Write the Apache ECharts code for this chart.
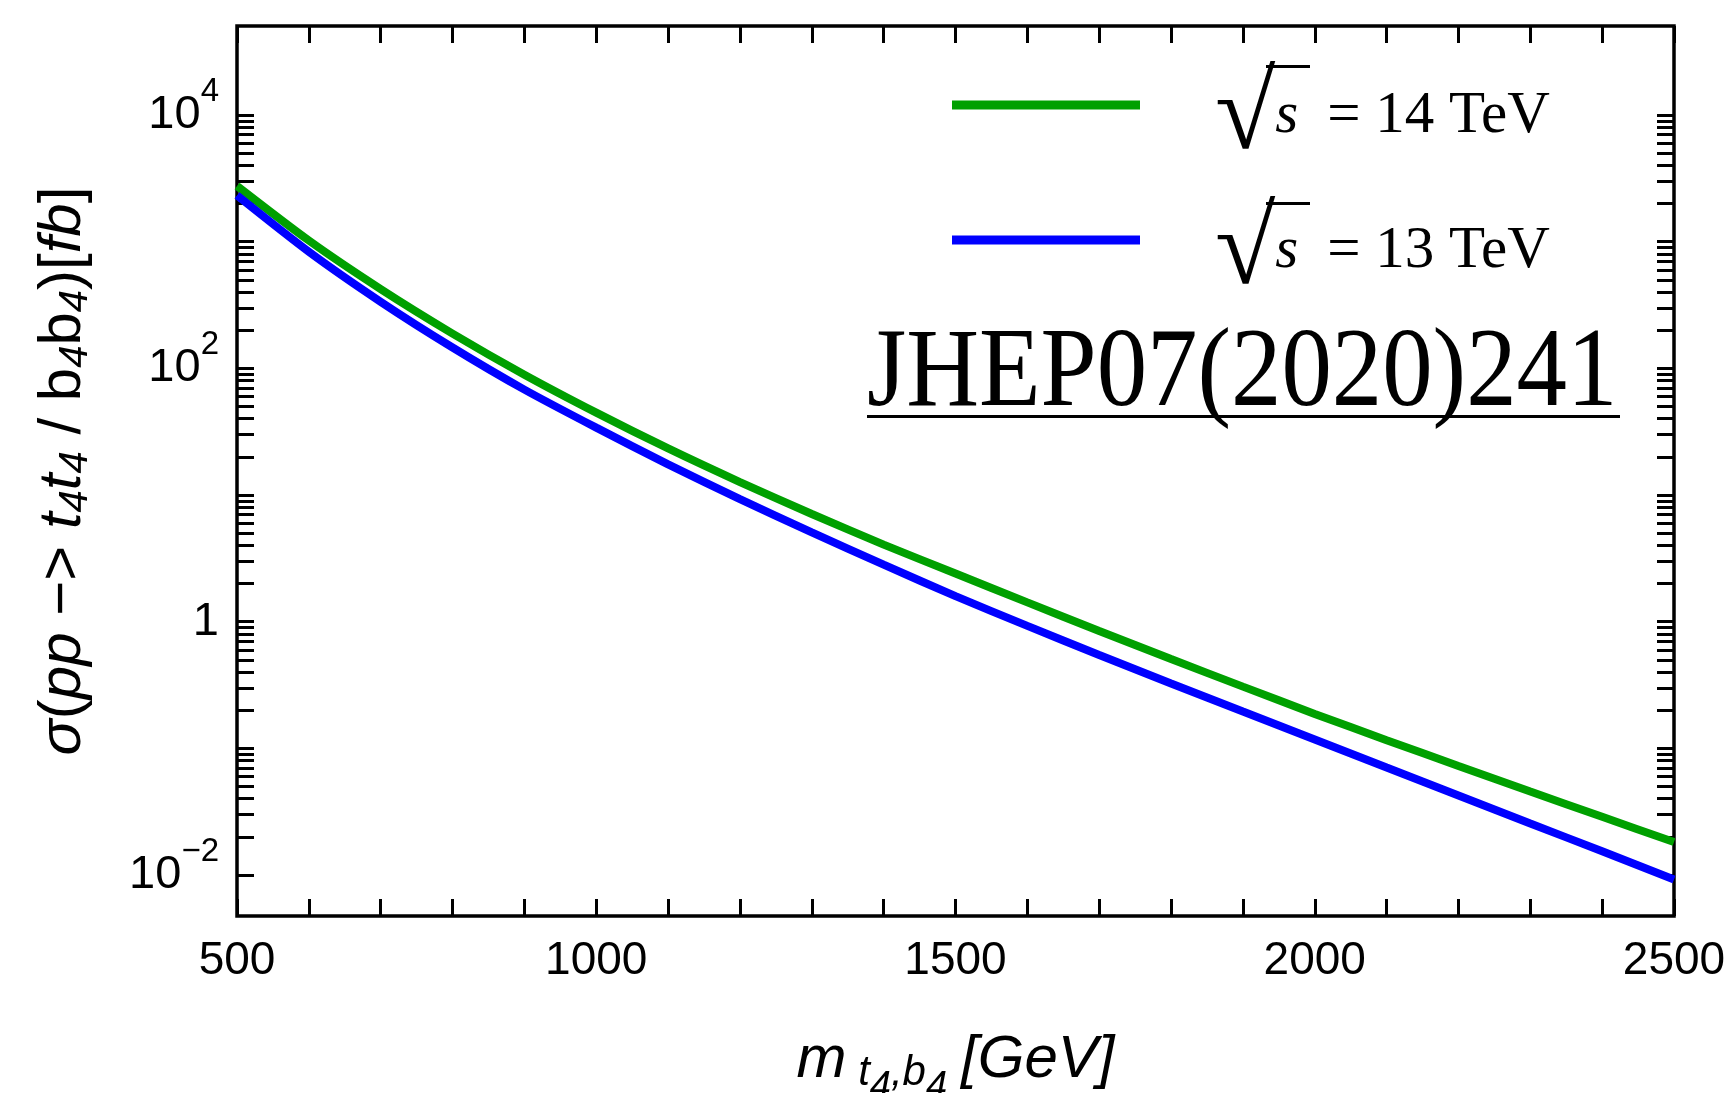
<!DOCTYPE html>
<html><head><meta charset="utf-8">
<script src="https://cdn.jsdelivr.net/npm/echarts@6/dist/echarts.min.js"></script>
<style>html,body{margin:0;padding:0;background:#fff}#c{width:1732px;height:1093px}</style>
</head><body><div id="c"></div><script>
// ---- data ----
const massGeV = [500,600,700,800,900,1000,1100,1200,1300,1400,1500,1600,1700,1800,1900,2000,2100,2200,2300,2400,2500];
const sigma14TeV = [2750,1020,422,188,89.1,44.7,23.3,12.65,7.08,4.06,2.40,1.42,0.845,0.507,0.307,0.187,0.116,0.0726,0.0456,0.0288,0.0182];
const sigma13TeV = [2317,832,335,146,67.9,34.0,17.46,9.27,5.07,2.82,1.59,0.927,0.546,0.325,0.195,0.1175,0.0706,0.0425,0.0255,0.0154,0.00923];
const seriesNames = ['14 TeV', '13 TeV'];
const xTickLabels = [500,1000,1500,2000,2500];
const yLabelValues = [0.01, 1, 100, 10000];
const yLabelBase = ['10', '1', '10', '10'];
const yLabelExp = ['\u22122', '', '2', '4'];
const yDecades = [-2,-1,0,1,2,3];
const yMantissas = [1,2,3,4,5,6,7,8,9];

const yTickValues = [];
yDecades.forEach(d => yMantissas.forEach(m => yTickValues.push(+(m * Math.pow(10, d)).toPrecision(3))));
yTickValues.push(10000);

const yMin = 0.004747, yMax = 50400;
const FONT = 'Liberation Sans';
const SERIF = 'Liberation Serif';

const chart = echarts.init(document.getElementById('c'), null, {renderer: 'canvas'});

const tickStyle = {color: '#000', width: 3};
function yLabelFmt(v) {
  let idx = -1;
  yLabelValues.forEach((lv, i) => { if (Math.abs(Math.log10(v) - Math.log10(lv)) < 1e-6) idx = i; });
  if (idx < 0) return '';
  return yLabelExp[idx] ? '{b|' + yLabelBase[idx] + '}{e|' + yLabelExp[idx] + '}' : '{b|' + yLabelBase[idx] + '}';
}

const option = {
  animation: false,
  backgroundColor: '#fff',
  textStyle: {fontFamily: FONT},
  grid: {left: 237, top: 26, width: 1437, height: 890, show: true, borderColor: '#000', borderWidth: 3.5,
         backgroundColor: 'transparent', containLabel: false, outerBoundsMode: 'none'},
  xAxis: [{
    type: 'value', min: 500, max: 2500, interval: 100, position: 'bottom',
    axisLine: {show: false}, splitLine: {show: false},
    axisTick: {inside: true, length: 17, lineStyle: tickStyle},
    axisLabel: {margin: 22, color: '#000', fontFamily: FONT, fontSize: 46,
      formatter: v => xTickLabels.indexOf(v) >= 0 ? String(v) : ''},
    name: '{m|m}{sub| t}{sub2|4}{sub|,b}{sub2|4}{n|[GeV]}',
    nameLocation: 'middle', nameGap: 98,
    nameTextStyle: {rich: {
      m: {fontFamily: FONT, fontStyle: 'italic', fontSize: 60, color: '#000', verticalAlign: 'middle'},
      sub: {fontFamily: FONT, fontStyle: 'italic', fontSize: 42, color: '#000', verticalAlign: 'middle', padding: [26,0,0,0]},
      sub2: {fontFamily: FONT, fontStyle: 'italic', fontSize: 38, color: '#000', verticalAlign: 'middle', padding: [54,0,0,0]},
      n: {fontFamily: FONT, fontStyle: 'italic', fontSize: 60, color: '#000', verticalAlign: 'middle', padding: [0,0,0,14]}
    }}
  }, {
    type: 'value', min: 500, max: 2500, interval: 100, position: 'top',
    axisLine: {show: false}, splitLine: {show: false},
    axisTick: {inside: true, length: 17, lineStyle: tickStyle},
    axisLabel: {show: false}
  }],
  yAxis: [{
    type: 'log', logBase: 10, min: yMin, max: yMax, position: 'left',
    axisLine: {show: false}, splitLine: {show: false}, minorTick: {show: false},
    axisTick: {inside: true, length: 17, lineStyle: tickStyle, customValues: yTickValues},
    axisLabel: {margin: 18, color: '#000', customValues: yLabelValues, formatter: yLabelFmt,
      rich: {
        b: {fontFamily: FONT, fontSize: 47, color: '#000', verticalAlign: 'middle'},
        e: {fontFamily: FONT, fontSize: 33, color: '#000', verticalAlign: 'middle', padding: [0,0,46,0]}
      }},
    name: '{g|\u03c3}{n|(}{i|pp}{n| \u2212> }{i|t}{s|4}{i|t}{s|4}{n| / }{n|b}{s|4}{n|b}{s|4}{n|)[}{i|fb}{n|]}',
    nameLocation: 'middle', nameGap: 141, nameRotate: 90,
    nameTextStyle: {rich: {
      g: {fontFamily: FONT, fontStyle: 'italic', fontSize: 60, color: '#000', verticalAlign: 'middle'},
      n: {fontFamily: FONT, fontSize: 60, color: '#000', verticalAlign: 'middle'},
      i: {fontFamily: FONT, fontStyle: 'italic', fontSize: 60, color: '#000', verticalAlign: 'middle'},
      s: {fontFamily: FONT, fontStyle: 'italic', fontSize: 40, color: '#000', verticalAlign: 'middle', padding: [26,0,0,0]}
    }}
  }, {
    type: 'log', logBase: 10, min: yMin, max: yMax, position: 'right',
    axisLine: {show: false}, splitLine: {show: false}, minorTick: {show: false},
    axisTick: {inside: true, length: 17, lineStyle: tickStyle, customValues: yTickValues},
    axisLabel: {show: false}
  }],
  legend: {
    orient: 'vertical', left: 952, top: 64, padding: 0, itemGap: 25,
    itemWidth: 188, itemHeight: 9, icon: 'rect', selectedMode: false,
    data: seriesNames,
    formatter: name => '{sp| }{r|\u221a}{s|s}{g| }{t|= ' + name + '}',
    textStyle: {rich: {
      sp: {width: 70, fontSize: 20},
      r: {fontFamily: SERIF, fontSize: 110, color: '#000', verticalAlign: 'middle', padding: [28,0,0,0]},
      s: {fontFamily: SERIF, fontStyle: 'italic', fontSize: 59, color: '#000', verticalAlign: 'middle', padding: [22,0,0,0]},
      g: {width: 29, fontSize: 20},
      t: {fontFamily: SERIF, fontSize: 59, color: '#000', verticalAlign: 'middle', padding: [22,0,0,0]}
    }}
  },
  series: [{
    name: seriesNames[0], type: 'line', showSymbol: false, symbol: 'none', smooth: 0.25, clip: true,
    data: massGeV.map((m, i) => [m, sigma14TeV[i]]),
    itemStyle: {color: '#00a000'}, lineStyle: {color: '#00a000', width: 8}
  }, {
    name: seriesNames[1], type: 'line', showSymbol: false, symbol: 'none', smooth: 0.25, clip: true,
    data: massGeV.map((m, i) => [m, sigma13TeV[i]]),
    itemStyle: {color: '#0000ff'}, lineStyle: {color: '#0000ff', width: 8}
  }],
  graphic: [
    {type: 'text', x: 867, y: 376, scaleX: 0.9, style: {text: 'JHEP07(2020)241', font: '112px "Liberation Serif"', fill: '#000', align: 'left', verticalAlign: 'middle'}},
    {type: 'rect', shape: {x: 867, y: 415, width: 753, height: 3}, style: {fill: '#000'}},
    {type: 'rect', shape: {x: 1266, y: 65, width: 44, height: 3}, style: {fill: '#000'}},
    {type: 'rect', shape: {x: 1266, y: 202, width: 44, height: 3}, style: {fill: '#000'}}
  ]
};
chart.setOption(option);
</script></body></html>
